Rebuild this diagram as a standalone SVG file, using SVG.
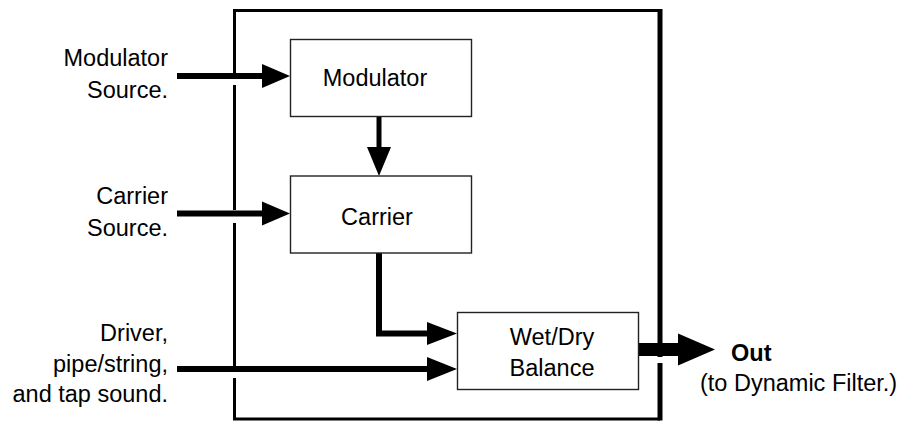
<svg xmlns="http://www.w3.org/2000/svg" width="902" height="421" viewBox="0 0 902 421">
  <style>
    .t { font-family: "Liberation Sans", Arial, Helvetica, sans-serif; font-size: 23.5px; fill: #000; }
    .box { fill: #fff; stroke: #222; stroke-width: 1.4; }
    .frame { fill: none; stroke: #000; stroke-width: 3; }
    .wire { fill: none; stroke: #000; stroke-width: 6; }
    .head { fill: #000; }
  </style>
  <rect width="902" height="421" fill="#fff"/>

  <g id="frame">
    <path class="frame" d="M234.5 79 V10.5 H660"/>
    <path class="frame" d="M234.5 85 V210"/>
    <path class="frame" d="M234.5 223 V366"/>
    <path class="frame" d="M234.5 378 V419 H660"/>
    <path d="M660 9 V357" fill="none" stroke="#000" stroke-width="5"/>
    <path d="M660 363 V420.5" fill="none" stroke="#000" stroke-width="5"/>
  </g>

  <g id="connectors">
    <path class="wire" d="M177 76 H263"/>
    <polygon class="head" points="262,64 290,76 262,88"/>
    <path class="wire" d="M177 213.5 H263"/>
    <polygon class="head" points="262,201.5 290,213.5 262,225.5"/>
    <path class="wire" d="M177 369 H428"/>
    <polygon class="head" points="427,357 457,369 427,381"/>
    <path d="M379 117 V148" fill="none" stroke="#000" stroke-width="5"/>
    <polygon class="head" points="367,147 391,147 379,176"/>
    <path class="wire" d="M379 253 V333.5 H428"/>
    <polygon class="head" points="427,322 457,333.5 427,345"/>
    <path d="M638 349.5 H679" fill="none" stroke="#000" stroke-width="13"/>
    <polygon class="head" points="678,333.5 715,349.5 678,365.5"/>
  </g>

  <g id="modulator-source">
    <text class="t" x="168" y="66" text-anchor="end">Modulator</text>
    <text class="t" x="168" y="98" text-anchor="end">Source.</text>
  </g>
  <g id="carrier-source">
    <text class="t" x="168" y="203.5" text-anchor="end">Carrier</text>
    <text class="t" x="168" y="235.5" text-anchor="end">Source.</text>
  </g>
  <g id="driver-source">
    <text class="t" x="168" y="341" text-anchor="end">Driver,</text>
    <text class="t" x="168" y="372" text-anchor="end">pipe/string,</text>
    <text class="t" x="168" y="402" text-anchor="end">and tap sound.</text>
  </g>

  <g id="modulator">
    <rect class="box" x="290.5" y="39.5" width="181" height="77"/>
    <text class="t" x="375" y="86" text-anchor="middle">Modulator</text>
  </g>
  <g id="carrier">
    <rect class="box" x="290.5" y="176" width="181" height="77"/>
    <text class="t" x="377" y="225" text-anchor="middle">Carrier</text>
  </g>
  <g id="wetdry">
    <rect class="box" x="457.5" y="312.5" width="181" height="77"/>
    <text class="t" x="552" y="345" text-anchor="middle">Wet/Dry</text>
    <text class="t" x="552" y="376" text-anchor="middle">Balance</text>
  </g>
  <g id="out">
    <text class="t" x="731" y="360.5" font-weight="bold">Out</text>
    <text class="t" x="700" y="391">(to Dynamic Filter.)</text>
  </g>
</svg>
